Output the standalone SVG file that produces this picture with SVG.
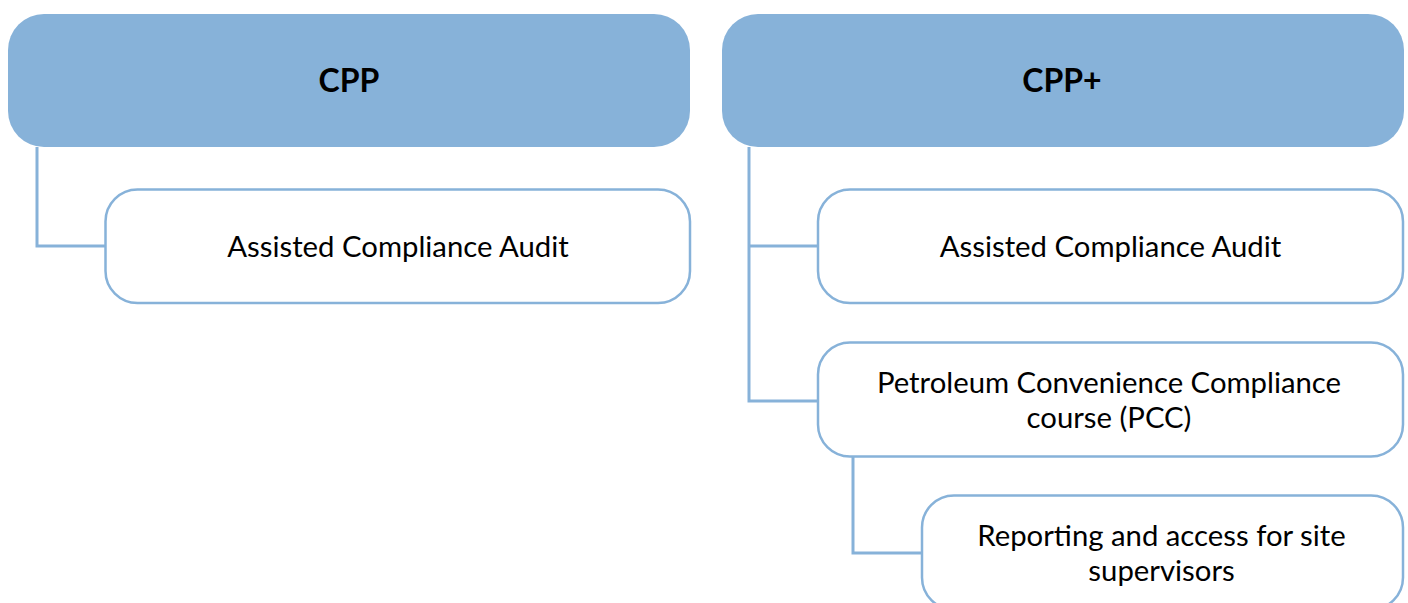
<svg xmlns="http://www.w3.org/2000/svg" width="1408" height="603" viewBox="0 0 1408 603">
<style>
.hdr{fill:#87B2D9;}
.box{fill:#FFFFFF;stroke:#87B2D9;stroke-width:2.5;}
.con{fill:none;stroke:#87B2D9;stroke-width:3;}
.ht{font-family:Lato,"Liberation Sans",sans-serif;font-weight:bold;font-size:32px;fill:#000;text-anchor:middle;}
.bt{font-family:Lato,"Liberation Sans",sans-serif;font-size:29.3px;fill:#000;text-anchor:middle;}
</style>
<rect width="1408" height="603" fill="#FFFFFF"/>
<g id="connectors">
<polyline class="con" points="37,147 37,246 105,246"/>
<polyline class="con" points="749,147 749,401 818,401"/>
<line class="con" x1="749" y1="246" x2="818" y2="246"/>
<polyline class="con" points="853,457 853,553 922,553"/>
</g>
<g id="cpp">
<rect class="hdr" x="8" y="14" width="682" height="133" rx="36"/>
<text class="ht" x="349" y="92">CPP</text>
</g>
<g id="cpp-audit">
<rect class="box" x="105.5" y="189.5" width="584.5" height="113.5" rx="32"/>
<text class="bt" x="398" y="257">Assisted Compliance Audit</text>
</g>
<g id="cppplus">
<rect class="hdr" x="722" y="14" width="682" height="133" rx="36"/>
<text class="ht" x="1062" y="92">CPP+</text>
</g>
<g id="cppplus-audit">
<rect class="box" x="818" y="189.5" width="585" height="113.5" rx="32"/>
<text class="bt" x="1110.5" y="257">Assisted Compliance Audit</text>
</g>
<g id="pcc">
<rect class="box" x="818" y="342.5" width="585" height="114" rx="32"/>
<text class="bt" x="1109" y="393">Petroleum Convenience Compliance</text>
<text class="bt" x="1109" y="428">course (PCC)</text>
</g>
<g id="reporting">
<rect class="box" x="922" y="495.5" width="481" height="114" rx="32"/>
<text class="bt" x="1161.5" y="546">Reporting and access for site</text>
<text class="bt" x="1161.5" y="581">supervisors</text>
</g>
</svg>
